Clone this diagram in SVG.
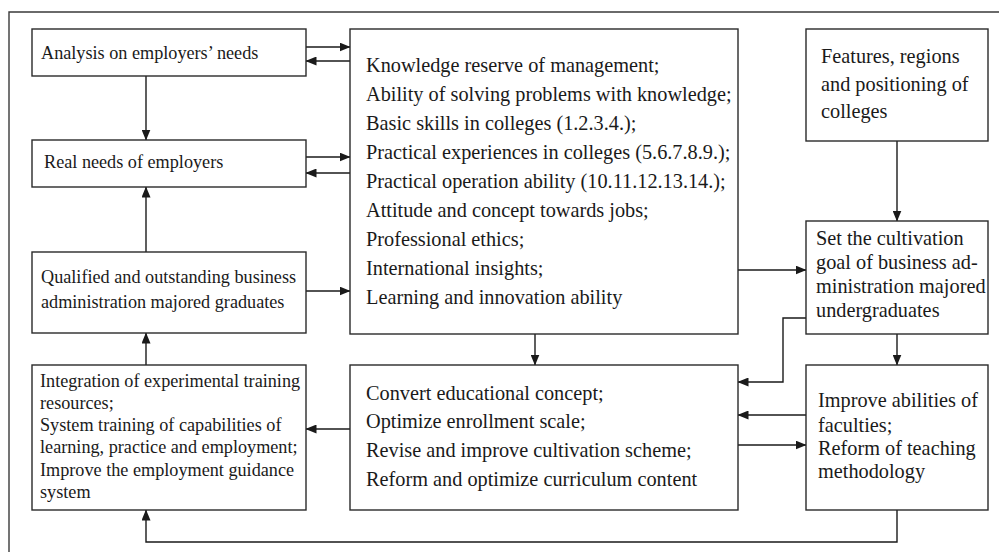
<svg xmlns="http://www.w3.org/2000/svg" width="999" height="552" viewBox="0 0 999 552">
<defs>
<marker id="arr" markerUnits="userSpaceOnUse" markerWidth="11" markerHeight="9" refX="10.5" refY="4.5" orient="auto">
<path d="M0,0 L11,4.5 L0,9 z" fill="#1a1a1a"/>
</marker>
<style>
.box{fill:#ffffff;stroke:#2a2a2a;stroke-width:1.4}
.frame{fill:none;stroke:#3a3a3a;stroke-width:1.4}
.t{font-family:"Liberation Serif","Times New Roman",serif;font-size:18.2px;fill:#1a1a1a}
.L{font-size:20.3px}
.c{fill:none;stroke:#1a1a1a;stroke-width:1.4;marker-end:url(#arr)}
</style>
</defs>
<rect width="999" height="552" fill="#ffffff"/>
<path class="frame" d="M9,560 V12 H1005"/>
<g id="connectors">
<path class="c" d="M306,47 H350"/>
<path class="c" d="M350,61 H306"/>
<path class="c" d="M306,157 H350"/>
<path class="c" d="M350,173 H306"/>
<path class="c" d="M146,76 V140"/>
<path class="c" d="M146,252 V187"/>
<path class="c" d="M146,365 V333"/>
<path class="c" d="M306,291 H350"/>
<path class="c" d="M738,270 H806"/>
<path class="c" d="M897,141 V221"/>
<path class="c" d="M897,334 V365"/>
<path class="c" d="M535,334 V365"/>
<path class="c" d="M806,318 H783 V382 H738"/>
<path class="c" d="M806,415 H738"/>
<path class="c" d="M738,445 H806"/>
<path class="c" d="M350,429 H306"/>
<path class="c" d="M897,510 V542 H146 V510"/>
</g>
<g id="analysis">
<rect class="box" x="32" y="29" width="274" height="47"/>
<text class="t" x="41" y="59">Analysis on employers’ needs</text>
</g>
<g id="real-needs">
<rect class="box" x="32" y="140" width="274" height="47"/>
<text class="t" x="44" y="168">Real needs of employers</text>
</g>
<g id="graduates">
<rect class="box" x="32" y="252" width="274" height="81"/>
<text class="t" x="41" y="283">Qualified and outstanding business</text>
<text class="t" x="41" y="308">administration majored graduates</text>
</g>
<g id="integration">
<rect class="box" x="32" y="365" width="274" height="145"/>
<text class="t" x="40" y="387">Integration of experimental training</text>
<text class="t" x="40" y="409">resources;</text>
<text class="t" x="40" y="431">System training of capabilities of</text>
<text class="t" x="40" y="453">learning, practice and employment;</text>
<text class="t" x="40" y="476">Improve the employment guidance</text>
<text class="t" x="40" y="498">system</text>
</g>
<g id="knowledge">
<rect class="box" x="350" y="29" width="388" height="305"/>
<text class="t L" x="366" y="72">Knowledge reserve of management;</text>
<text class="t L" x="366" y="101">Ability of solving problems with knowledge;</text>
<text class="t L" x="366" y="130">Basic skills in colleges (1.2.3.4.);</text>
<text class="t L" x="366" y="159">Practical experiences in colleges (5.6.7.8.9.);</text>
<text class="t L" x="366" y="188">Practical operation ability (10.11.12.13.14.);</text>
<text class="t L" x="366" y="217">Attitude and concept towards jobs;</text>
<text class="t L" x="366" y="246">Professional ethics;</text>
<text class="t L" x="366" y="275">International insights;</text>
<text class="t L" x="366" y="304">Learning and innovation ability</text>
</g>
<g id="convert">
<rect class="box" x="350" y="365" width="388" height="145"/>
<text class="t L" x="366" y="400">Convert educational concept;</text>
<text class="t L" x="366" y="428">Optimize enrollment scale;</text>
<text class="t L" x="366" y="457">Revise and improve cultivation scheme;</text>
<text class="t L" x="366" y="486">Reform and optimize curriculum content</text>
</g>
<g id="features">
<rect class="box" x="806" y="29" width="182" height="112"/>
<text class="t L" x="821" y="63">Features, regions</text>
<text class="t L" x="821" y="91">and positioning of</text>
<text class="t L" x="821" y="118">colleges</text>
</g>
<g id="goal">
<rect class="box" x="806" y="221" width="182" height="113"/>
<text class="t L" x="816" y="245">Set the cultivation</text>
<text class="t L" x="816" y="269">goal of business ad-</text>
<text class="t L" x="816" y="293">ministration majored</text>
<text class="t L" x="816" y="317">undergraduates</text>
</g>
<g id="faculties">
<rect class="box" x="806" y="365" width="182" height="145"/>
<text class="t L" x="818" y="407">Improve abilities of</text>
<text class="t L" x="818" y="432">faculties;</text>
<text class="t L" x="818" y="455">Reform of teaching</text>
<text class="t L" x="818" y="478">methodology</text>
</g>
</svg>
